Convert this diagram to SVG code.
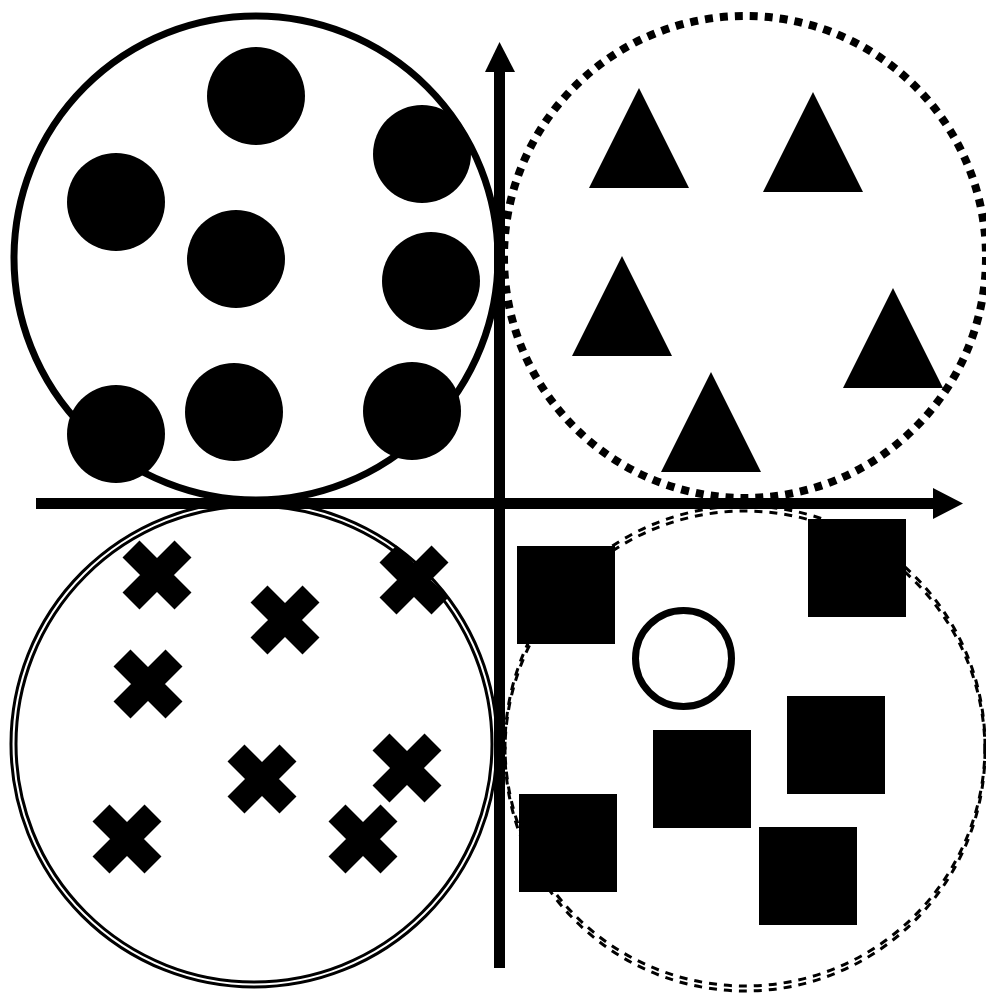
<svg xmlns="http://www.w3.org/2000/svg" xmlns:xlink="http://www.w3.org/1999/xlink" width="986" height="994" viewBox="0 0 986 994">
<style>
.dot{fill:#000}
.tri{fill:#000}
.sq{fill:#000}
.x{stroke:#000;stroke-width:24;fill:none}
.axis{stroke:#000;stroke-width:11;fill:none}
</style>
<defs>
<path id="cross" d="M-26,-26 L26,26 M26,-26 L-26,26" class="x"/>
<polygon id="tri" points="0,-50 50,50 -50,50" class="tri"/>
<rect id="sq" x="-49" y="-49" width="98" height="98" class="sq"/>
</defs>
<rect width="986" height="994" fill="#fff"/>
<g id="cluster-circles">
<circle cx="256" cy="258" r="242" fill="none" stroke="#000" stroke-width="7"/>
<circle class="dot" cx="256" cy="96" r="49"/>
<circle class="dot" cx="422" cy="154" r="49"/>
<circle class="dot" cx="116" cy="202" r="49"/>
<circle class="dot" cx="236" cy="259" r="49"/>
<circle class="dot" cx="431" cy="281" r="49"/>
<circle class="dot" cx="116" cy="434" r="49"/>
<circle class="dot" cx="234" cy="412" r="49"/>
<circle class="dot" cx="412" cy="411" r="49"/>
</g>
<g id="cluster-triangles">
<circle cx="745" cy="257" r="241" fill="none" stroke="#000" stroke-width="8" stroke-dasharray="8 7"/>
<use xlink:href="#tri" x="639" y="138"/>
<use xlink:href="#tri" x="813" y="142"/>
<use xlink:href="#tri" x="622" y="306"/>
<use xlink:href="#tri" x="893" y="338"/>
<use xlink:href="#tri" x="711" y="422"/>
</g>
<g id="cluster-crosses">
<circle cx="254" cy="744" r="243" fill="none" stroke="#000" stroke-width="3"/>
<circle cx="254" cy="744" r="238" fill="none" stroke="#000" stroke-width="3"/>
<use xlink:href="#cross" x="157" y="575"/>
<use xlink:href="#cross" x="285" y="620"/>
<use xlink:href="#cross" x="414" y="580"/>
<use xlink:href="#cross" x="148" y="684"/>
<use xlink:href="#cross" x="262" y="779"/>
<use xlink:href="#cross" x="407" y="768"/>
<use xlink:href="#cross" x="127" y="839"/>
<use xlink:href="#cross" x="363" y="839"/>
</g>
<g id="cluster-squares">
<circle cx="745" cy="746" r="240" fill="none" stroke="#000" stroke-width="3" stroke-dasharray="8 7"/>
<circle cx="745" cy="751" r="240" fill="none" stroke="#000" stroke-width="3" stroke-dasharray="8 7"/>
<use xlink:href="#sq" x="566" y="595"/>
<use xlink:href="#sq" x="857" y="568"/>
<use xlink:href="#sq" x="702" y="779"/>
<use xlink:href="#sq" x="836" y="745"/>
<use xlink:href="#sq" x="568" y="843"/>
<use xlink:href="#sq" x="808" y="876"/>
<circle cx="683.5" cy="658.5" r="48" fill="none" stroke="#000" stroke-width="7"/>
</g>
<g id="connectors">
<line class="axis" x1="36" y1="503.5" x2="934" y2="503.5"/>
<polygon points="933,488 963,503.5 933,519" fill="#000"/>
<line class="axis" x1="499.5" y1="968" x2="499.5" y2="71"/>
<polygon points="485,72 499.5,42 515,72" fill="#000"/>
</g>
</svg>
